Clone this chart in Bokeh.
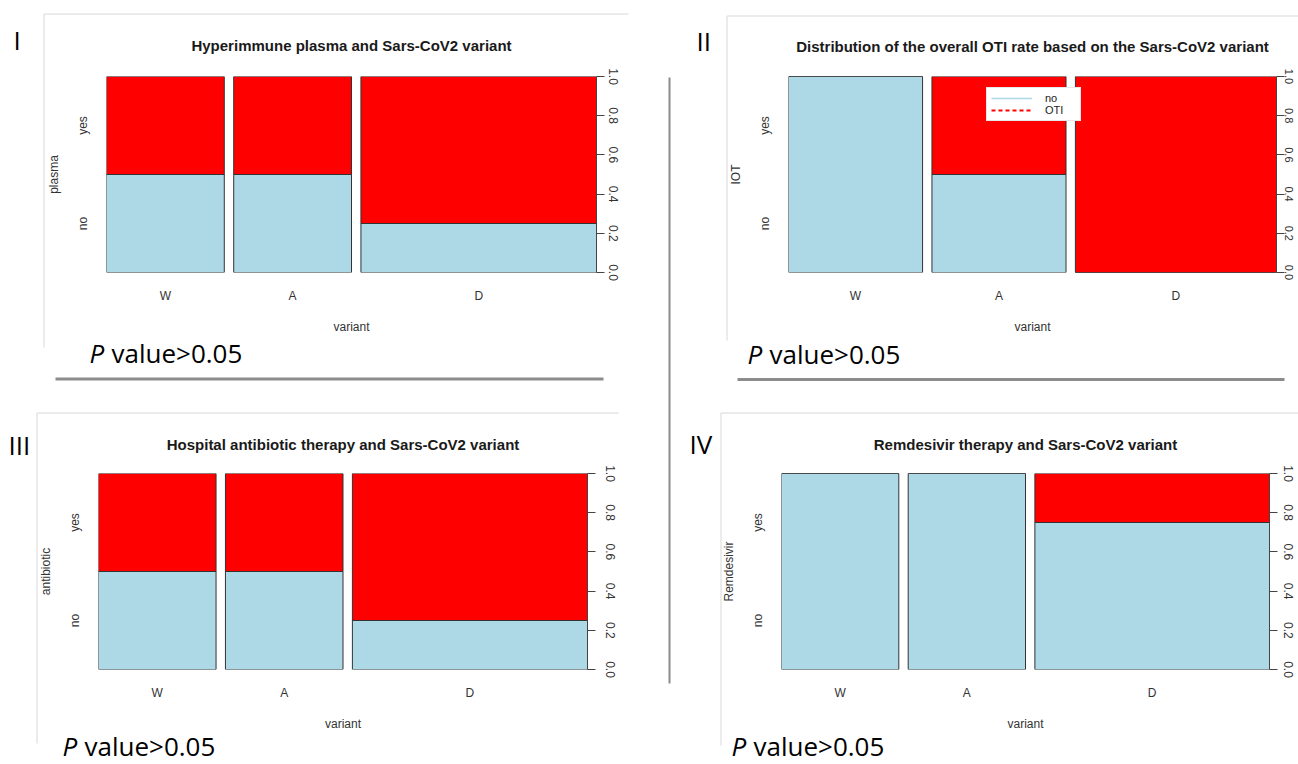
import numpy as np
from bokeh.plotting import figure
from bokeh.layouts import column, row
from bokeh.models import (ColumnDataSource, Range1d, LinearAxis, FixedTicker, GridBox,
                          PrintfTickFormatter, Legend, LegendItem)
from bokeh.core.properties import value
from bokeh.embed import file_html
from bokeh.resources import INLINE

# ---------------- data ----------------
variants = ["W", "A", "D"]

plasma_n = [2, 2, 4]
plasma_no = [1, 1, 1]

oti_n = [2, 2, 3]
oti_no = [2, 1, 0]

antibiotic_n = [2, 2, 4]
antibiotic_no = [1, 1, 1]

remdesivir_n = [2, 2, 4]
remdesivir_no = [2, 2, 3]

level_labels = ["no", "yes"]
level_ticks = [0.25, 0.75]
prop_ticks = [0.0, 0.2, 0.4, 0.6, 0.8, 1.0]

titles = ["Hyperimmune plasma and Sars-CoV2 variant",
          "Distribution of the overall OTI rate based on the Sars-CoV2 variant",
          "Hospital antibiotic therapy and Sars-CoV2 variant",
          "Remdesivir therapy and Sars-CoV2 variant"]
y_names = ["plasma", "IOT", "antibiotic", "Remdesivir"]
x_name = "variant"
tags = ["I", "II", "III", "IV"]
p_letter = "P"
p_rest = "value>0.05"
legend_labels = ["no", "OTI"]

# ---------------- style ----------------
NO_COLOR = "#ADD8E6"
YES_COLOR = "#FF0000"
EDGE = "#333333"
TXT = "#333333"
SEP = "#8c8c8c"
FRAME = "#d8d8d8"
OFF = 0.02
AX_FONT = "Liberation Sans"
DECO_FONT = "Open Sans"
W_ALL, H_ALL = 1298, 764


def spine(n, no):
    n = np.asarray(n, float)
    no = np.asarray(no, float)
    w = n / n.sum()
    left = np.concatenate([[0.0], np.cumsum(w + OFF)[:-1]])
    right = left + w
    return left, right, no / n, float(right[-1])


def panel(k, n, no, geom, rstyle, legend_at=None):
    ox, oy, W, H, mbl, mbt, fw, fh = geom
    left, right, frac, xmax = spine(n, no)
    p = figure(width=W, height=H, x_range=Range1d(0, xmax), y_range=Range1d(0, 1),
               min_border_left=mbl, min_border_top=mbt,
               min_border_right=W - mbl - fw, min_border_bottom=H - mbt - fh,
               output_backend="svg", toolbar_location=None, tools="")
    p.outline_line_color = None
    p.xgrid.visible = False
    p.ygrid.visible = False
    p.background_fill_color = None
    p.border_fill_color = None

    src = ColumnDataSource(dict(left=left, right=right, frac=frac,
                                base=np.zeros(len(n)), full=np.ones(len(n))))
    p.quad(left="left", right="right", bottom="base", top="frac", source=src,
           fill_color=NO_COLOR, line_color=EDGE, line_width=1)
    p.quad(left="left", right="right", bottom="frac", top="full", source=src,
           fill_color=YES_COLOR, line_color=EDGE, line_width=1)

    # bottom axis: category names under each bar
    centers = ((left + right) / 2).tolist()
    xa = p.xaxis[0]
    xa.ticker = FixedTicker(ticks=centers)
    xa.major_label_overrides = {c: v for c, v in zip(centers, variants)}
    xa.major_tick_out = 0
    xa.major_tick_in = 0
    xa.minor_tick_out = 0
    xa.axis_line_color = None
    xa.major_label_standoff = 16
    xa.major_label_text_font = AX_FONT
    xa.major_label_text_font_size = "12px"
    xa.major_label_text_color = TXT
    xa.axis_label = x_name
    xa.axis_label_standoff = 14
    xa.axis_label_text_font = AX_FONT
    xa.axis_label_text_font_size = "12px"
    xa.axis_label_text_font_style = "normal"
    xa.axis_label_text_color = TXT

    # left axis: levels
    ya = p.yaxis[0]
    ya.ticker = FixedTicker(ticks=level_ticks)
    ya.major_label_overrides = dict(zip(level_ticks, level_labels))
    ya.major_label_orientation = "vertical"
    ya.major_tick_out = 0
    ya.major_tick_in = 0
    ya.minor_tick_out = 0
    ya.axis_line_color = None
    ya.major_label_standoff = 17
    ya.major_label_text_font = AX_FONT
    ya.major_label_text_font_size = "12px"
    ya.major_label_text_color = TXT
    ya.axis_label = y_names[k]
    ya.axis_label_standoff = 12
    ya.axis_label_text_font = AX_FONT
    ya.axis_label_text_font_size = "12px"
    ya.axis_label_text_font_style = "normal"
    ya.axis_label_text_color = TXT

    # right axis: proportions
    standoff, fsize = rstyle
    ra = LinearAxis(ticker=FixedTicker(ticks=prop_ticks),
                    formatter=PrintfTickFormatter(format="%.1f"))
    ra.major_tick_out = 8
    ra.major_tick_in = 0
    ra.minor_tick_out = 0
    ra.major_tick_line_color = "#444444"
    ra.axis_line_color = "#444444"
    ra.major_label_orientation = "vertical"
    ra.major_label_standoff = standoff
    ra.major_label_text_font = AX_FONT
    ra.major_label_text_font_size = fsize
    ra.major_label_text_color = TXT
    p.add_layout(ra, "right")

    if legend_at is not None:
        nan = np.array([np.nan])
        r_no = p.line(x=nan, y=nan, line_color=NO_COLOR, line_width=1.5)
        r_yes = p.line(x=nan, y=nan, line_color=YES_COLOR, line_width=2, line_dash="4 3")
        lx, ly = legend_at
        lg = Legend(items=[LegendItem(label=legend_labels[0], renderers=[r_no]),
                           LegendItem(label=legend_labels[1], renderers=[r_yes])],
                    location=(lx - (ox + mbl), (oy + mbt + fh) - ly),
                    padding=4, spacing=0, margin=0, glyph_width=41, glyph_height=12,
                    label_standoff=13, label_width=31, label_height=12,
                    label_text_font=AX_FONT, label_text_font_size="11px",
                    label_text_color="#222222", border_line_color="#cfcfcf",
                    background_fill_color="white", background_fill_alpha=1)
        p.add_layout(lg)
    return p


# panel geometry: origin x, origin y, width, height, frame left/top offsets, frame size
g1 = (0, 0, 668, 392, 106, 75, 490, 197)
g2 = (668, 0, 630, 392, 120, 76, 488, 196)
g3 = (0, 392, 668, 372, 98, 81, 489, 196)
g4 = (668, 392, 630, 372, 113, 81, 488, 196)
geoms = [g1, g2, g3, g4]

p1 = panel(0, plasma_n, plasma_no, g1, (4, "12px"))
p2 = panel(1, oti_n, oti_no, g2, (0, "11px"), legend_at=(986, 121))
p3 = panel(2, antibiotic_n, antibiotic_no, g3, (10, "12px"))
p4 = panel(3, remdesivir_n, remdesivir_no, g4, (6, "12px"))

charts = column(row(p1, p2, spacing=0), row(p3, p4, spacing=0), spacing=0)

# ---------------- decoration layer (page furniture around the four charts) ----------------
deco = figure(width=W_ALL, height=H_ALL, x_range=Range1d(0, W_ALL), y_range=Range1d(H_ALL, 0),
              x_axis_location=None, y_axis_location=None, min_border=0,
              output_backend="svg", toolbar_location=None, tools="")
deco.outline_line_color = None
deco.xgrid.visible = False
deco.ygrid.visible = False
deco.background_fill_color = "white"
deco.border_fill_color = "white"

title_mid = [45, 45.5, 444, 444]
title_x = [g[0] + g[4] + g[6] / 2 for g in geoms]
deco.text(x=title_x, y=title_mid, text=titles, text_align="center",
          text_baseline="middle", text_font=value(AX_FONT),
          text_font_size="15px", text_font_style="bold", text_color="#1a1a1a")

tag_x = [13, 696, 8, 689]
tag_mid = [39, 40, 444, 443]
deco.text(x=tag_x, y=tag_mid, text=tags, text_align="left", text_baseline="middle",
          text_font=value(DECO_FONT), text_font_size="26px", text_color="black")

pv_x = np.array([89, 747, 62, 731])
pv_mid = [352, 353.5, 745, 745.5]
deco.text(x=pv_x, y=pv_mid, text=[p_letter] * 4, text_align="left",
          text_baseline="middle", text_font=value(DECO_FONT), text_font_size="26px",
          text_font_style="italic", text_color="black")
deco.text(x=pv_x + 22, y=pv_mid, text=[p_rest] * 4, text_align="left",
          text_baseline="middle", text_font=value(DECO_FONT), text_font_size="26px",
          text_color="black")

# light borders of the four screenshots
bx0 = [43.5, 43.5, 726.5, 726.5, 36.5, 36.5, 720.5, 720.5]
by0 = [13.5, 13.5, 15.5, 15.5, 412.5, 412.5, 412.5, 412.5]
bx1 = [43.5, 628, 726.5, 1298, 36.5, 618, 720.5, 1298]
by1 = [347, 13.5, 340, 15.5, 743, 412.5, 745, 412.5]
deco.segment(x0=bx0, y0=by0, x1=bx1, y1=by1, line_color=FRAME, line_width=1)

# grey separators
deco.segment(x0=[55, 737], y0=[378.5, 379], x1=[603, 1284], y1=[378.5, 379],
             line_color=SEP, line_width=3)
deco.segment(x0=[669], y0=[77], x1=[669], y1=[683], line_color=SEP, line_width=2)

layout = GridBox(children=[(deco, 0, 0), (charts, 0, 0)], spacing=0)
open("out.html", "w").write(file_html(layout, INLINE))
